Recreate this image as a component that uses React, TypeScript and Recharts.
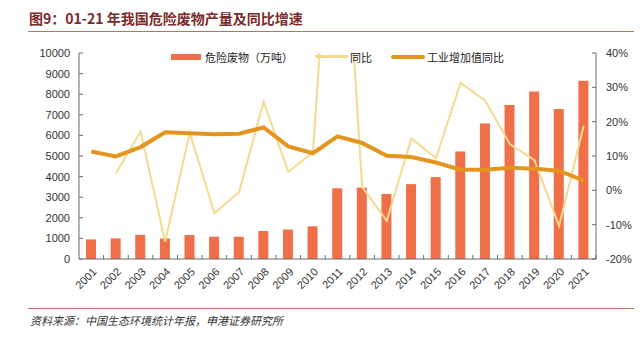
import React from "react";
import { Bar, ComposedChart, Line, XAxis, YAxis } from "recharts";

const years = [
  "2001", "2002", "2003", "2004", "2005", "2006", "2007", "2008", "2009", "2010", "2011",
  "2012", "2013", "2014", "2015", "2016", "2017", "2018", "2019", "2020", "2021",
];
// 危险废物产量（万吨）
const hazardousWaste = [
  952, 1000, 1171, 995, 1162, 1084, 1079, 1357, 1430, 1587, 3431,
  3465, 3157, 3634, 3976, 5219, 6581, 7470, 8126, 7282, 8653,
];
// 同比 (%)
const yoyGrowth = [
  null, 5.0, 17.1, -15.0, 16.8, -6.7, -0.5, 25.8, 5.4, 11.0, 116.2,
  1.0, -8.9, 15.1, 9.4, 31.3, 26.1, 13.5, 8.8, -10.4, 18.8,
];
// 工业增加值同比 (%)
const industryGrowth = [
  11.3, 9.9, 12.6, 16.9, 16.6, 16.3, 16.5, 18.3, 12.8, 10.8, 15.7,
  13.8, 10.1, 9.7, 8.1, 6.0, 6.0, 6.6, 6.3, 5.7, 2.8,
];
const leftTicks = [0, 1000, 2000, 3000, 4000, 5000, 6000, 7000, 8000, 9000, 10000];
const rightTicks = [-20, -10, 0, 10, 20, 30, 40];

const data = years.map((year, i) => ({
  year,
  waste: hazardousWaste[i],
  yoy: yoyGrowth[i],
  industry: industryGrowth[i],
}));

const BAR = "#EF6F49";
const YOY = "#F5D98E";
const IND = "#E4951E";
const AXIS = "#6b6b6b";
const TICK_FONT = "'Liberation Sans', Arial, sans-serif";

const LeftTick = (props: any) => {
  const { x, y, payload } = props;
  return (
    <g>
      <line x1={x} x2={x + 4} y1={y} y2={y} stroke={AXIS} />
      <text x={x - 9} y={y} dy={4} textAnchor="end" fontSize={11} fill="#333" fontFamily={TICK_FONT}>
        {payload.value}
      </text>
    </g>
  );
};

const RightTick = (props: any) => {
  const { x, y, payload } = props;
  return (
    <g>
      <line x1={x - 4} x2={x} y1={y} y2={y} stroke={AXIS} />
      <text x={x + 10} y={y} dy={4} textAnchor="start" fontSize={11} fill="#333" fontFamily={TICK_FONT}>
        {payload.value}%
      </text>
    </g>
  );
};

const BottomTick = (props: any) => {
  const { x, y, payload, width, visibleTicksCount } = props;
  const half = width && visibleTicksCount ? width / visibleTicksCount / 2 : 12;
  const tx = x + 6;
  const ty = y + 13.5;
  return (
    <g>
      <line x1={x + half} x2={x + half} y1={y} y2={y - 4} stroke={AXIS} />
      <text
        x={tx}
        y={ty}
        textAnchor="end"
        fontSize={11}
        fill="#333"
        fontFamily={TICK_FONT}
        transform={`rotate(-45, ${tx}, ${ty})`}
      >
        {payload.value}
      </text>
    </g>
  );
};

const legendText: React.CSSProperties = {
  fontSize: 11,
  color: "#222",
  fontFamily: "'Noto Sans CJK SC', sans-serif",
  lineHeight: "14px",
};

export default function App() {
  return (
    <div
      style={{
        position: "absolute",
        left: 0,
        top: 0,
        width: 642,
        height: 337,
        background: "#fff",
        overflow: "hidden",
      }}
    >
      <div
        style={{
          position: "absolute",
          left: 29,
          top: 9,
          fontSize: 14,
          lineHeight: "18px",
          fontWeight: 700,
          color: "#7A2B2B",
          fontFamily: "'Noto Sans CJK SC', sans-serif",
          whiteSpace: "nowrap",
        }}
      >
        图9：01-21 年我国危险废物产量及同比增速
      </div>
      <div style={{ position: "absolute", left: 28, top: 30.5, width: 606, height: 1.3, background: "#C2705B" }} />

      <ComposedChart
        width={642}
        height={337}
        data={data}
        margin={{ top: 53, right: 6, bottom: 48, left: 19 }}
      >
        <XAxis
          dataKey="year"
          interval={0}
          height={30}
          tickSize={0}
          tickMargin={0}
          tickLine={false}
          stroke={AXIS}
          tick={<BottomTick />}
        />
        <YAxis
          yAxisId="left"
          width={60}
          domain={[0, 10000]}
          ticks={leftTicks}
          interval={0}
          tickSize={0}
          tickMargin={0}
          tickLine={false}
          stroke={AXIS}
          tick={<LeftTick />}
        />
        <YAxis
          yAxisId="right"
          orientation="right"
          width={40}
          domain={[-20, 40]}
          ticks={rightTicks}
          interval={0}
          allowDataOverflow
          tickSize={0}
          tickMargin={0}
          tickLine={false}
          stroke={AXIS}
          tick={<RightTick />}
        />
        <Bar yAxisId="left" dataKey="waste" fill={BAR} barSize={10} isAnimationActive={false} />
        <Line
          yAxisId="right"
          dataKey="yoy"
          stroke={YOY}
          strokeWidth={2}
          dot={false}
          type="linear"
          isAnimationActive={false}
        />
        <Line
          yAxisId="right"
          dataKey="industry"
          stroke={IND}
          strokeWidth={4}
          dot={false}
          type="linear"
          isAnimationActive={false}
        />
      </ComposedChart>

      <div style={{ position: "absolute", left: 171, top: 49.5, display: "flex", alignItems: "center" }}>
        <div style={{ width: 30, height: 6, background: BAR, marginRight: 4 }} />
        <span style={legendText}>危险废物（万吨）</span>
        <div style={{ width: 33, height: 2.5, background: YOY, marginLeft: 22, marginRight: 2 }} />
        <span style={legendText}>同比</span>
        <div style={{ width: 34, height: 4, background: IND, marginLeft: 19, marginRight: 2, borderRadius: 2 }} />
        <span style={legendText}>工业增加值同比</span>
      </div>

      <div style={{ position: "absolute", left: 28, top: 307.5, width: 606, height: 1.3, background: "#C2705B" }} />
      <div
        style={{
          position: "absolute",
          left: 30,
          top: 313,
          fontSize: 11,
          lineHeight: "14px",
          fontStyle: "italic",
          color: "#333",
          fontFamily: "'Noto Sans CJK SC', sans-serif",
          whiteSpace: "nowrap",
        }}
      >
        资料来源：中国生态环境统计年报，申港证券研究所
      </div>
    </div>
  );
}
